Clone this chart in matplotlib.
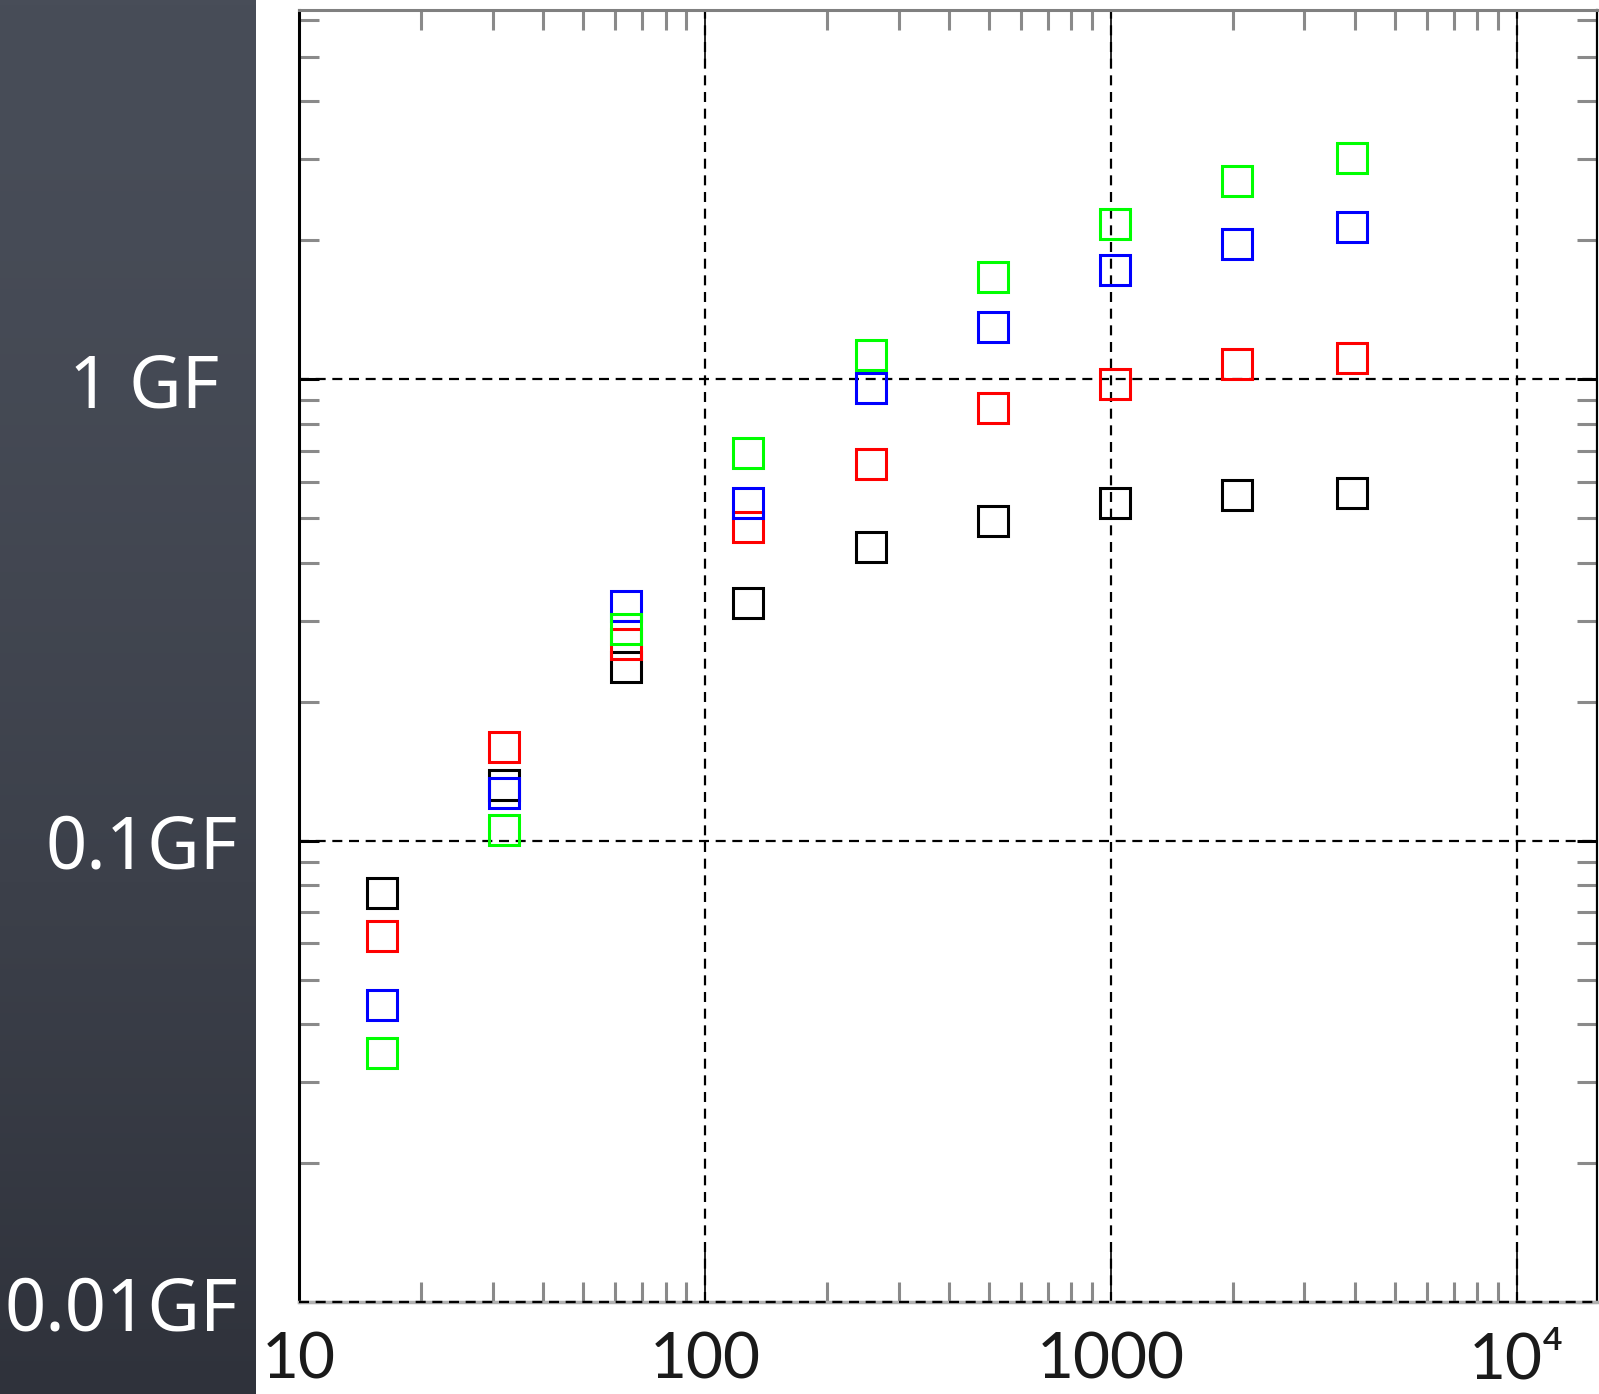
import numpy as np
import matplotlib
matplotlib.use('Agg')
import matplotlib.pyplot as plt
from matplotlib.ticker import FixedLocator, LogLocator, NullFormatter

# process counts (x) and performance in GF for the four runs
n_procs = [16, 32, 64, 128, 256, 512, 1024, 2048, 3920]
gf_black = [0.077, 0.132, 0.238, 0.328, 0.433, 0.493, 0.538, 0.560, 0.567]
gf_red = [0.0623, 0.160, 0.267, 0.479, 0.655, 0.865, 0.978, 1.081, 1.111]
gf_blue = [0.0441, 0.127, 0.322, 0.538, 0.956, 1.300, 1.728, 1.967, 2.142]
gf_green = [0.0346, 0.1056, 0.287, 0.693, 1.13, 1.664, 2.17, 2.69, 3.02]

x_ticks = [10, 100, 1000, 10000]
x_ticklabels = ['10', '100', '1000', '10\u2074']
y_ticks = [0.01, 0.1, 1]
y_ticklabels = ['0.01GF', '0.1GF', '1 GF ']

W, H = 1599, 1394
fig = plt.figure(figsize=(W / 100, H / 100), dpi=100)
fig.patch.set_facecolor('white')

# dark slate panel behind the y labels
bg = fig.add_axes([0, 0, 256 / W, 1])
top_c = np.array([0x48, 0x4d, 0x58]) / 255
bot_c = np.array([0x2f, 0x32, 0x3b]) / 255
t = np.linspace(0, 1, 256)[:, None] ** 1.6
grad = top_c[None, :] * (1 - t) + bot_c[None, :] * t
bg.imshow(grad[:, None, :], aspect='auto', extent=[0, 1, 0, 1])
bg.set_axis_off()

ax = fig.add_axes([299 / W, 91.7 / H, 1298 / W, 1292.3 / H])
ax.set_xscale('log')
ax.set_yscale('log')

for vals, col in [(gf_black, 'black'), (gf_red, '#ff0000'),
                  (gf_blue, '#0000ff'), (gf_green, '#00ff00')]:
    ax.plot(n_procs, vals, linestyle='none', marker='s', markersize=21.6,
            markerfacecolor='none', markeredgecolor=col, markeredgewidth=2.2,
            zorder=3)

ax.set_xlim(10, 15770)
ax.set_ylim(0.01, 6.31)

ax.xaxis.set_major_locator(FixedLocator(x_ticks))
ax.set_xticklabels(x_ticklabels)
ax.yaxis.set_major_locator(FixedLocator(y_ticks))
ax.set_yticklabels(y_ticklabels)
ax.xaxis.set_minor_locator(LogLocator(base=10, subs=range(2, 10), numticks=20))
ax.yaxis.set_minor_locator(LogLocator(base=10, subs=range(2, 10), numticks=20))
ax.xaxis.set_minor_formatter(NullFormatter())
ax.yaxis.set_minor_formatter(NullFormatter())

ax.tick_params(which='minor', direction='in', length=14.4, width=2.2,
               color='#8a8a8a', top=True, right=True, bottom=True, left=True)
ax.tick_params(axis='x', which='major', direction='in', length=36, width=1.2,
               color='black', top=True, bottom=True, pad=21)
ax.tick_params(axis='y', which='major', direction='in', length=14.4, width=2.2,
               color='black', left=True, right=True, pad=44)

for lab in ax.get_xticklabels():
    lab.set_fontfamily(['Lato', 'DejaVu Sans'])
    lab.set_fontweight('normal')
    lab.set_fontsize(46)
    lab.set_color('#1a1a1a')
for lab in ax.get_yticklabels():
    lab.set_fontfamily(['Noto Sans', 'DejaVu Sans'])
    lab.set_fontsize(52)
    lab.set_color('white')

dash = (0, (4.5, 3))
ax.grid(True, which='major', color='black', linestyle=dash, linewidth=1.6)
# dashed line running along the bottom frame
ax.axhline(0.01, color='black', linestyle=dash, linewidth=1.6, zorder=4,
           clip_on=False)

ax.spines['top'].set_color('#808080')
ax.spines['top'].set_linewidth(2.2)
ax.spines['bottom'].set_color('#b0b0b0')
ax.spines['bottom'].set_linewidth(2.5)
ax.spines['left'].set_color('black')
ax.spines['left'].set_linewidth(2.2)
ax.spines['right'].set_color('black')
ax.spines['right'].set_linewidth(1.6)

fig.savefig('out.png', dpi=100)
